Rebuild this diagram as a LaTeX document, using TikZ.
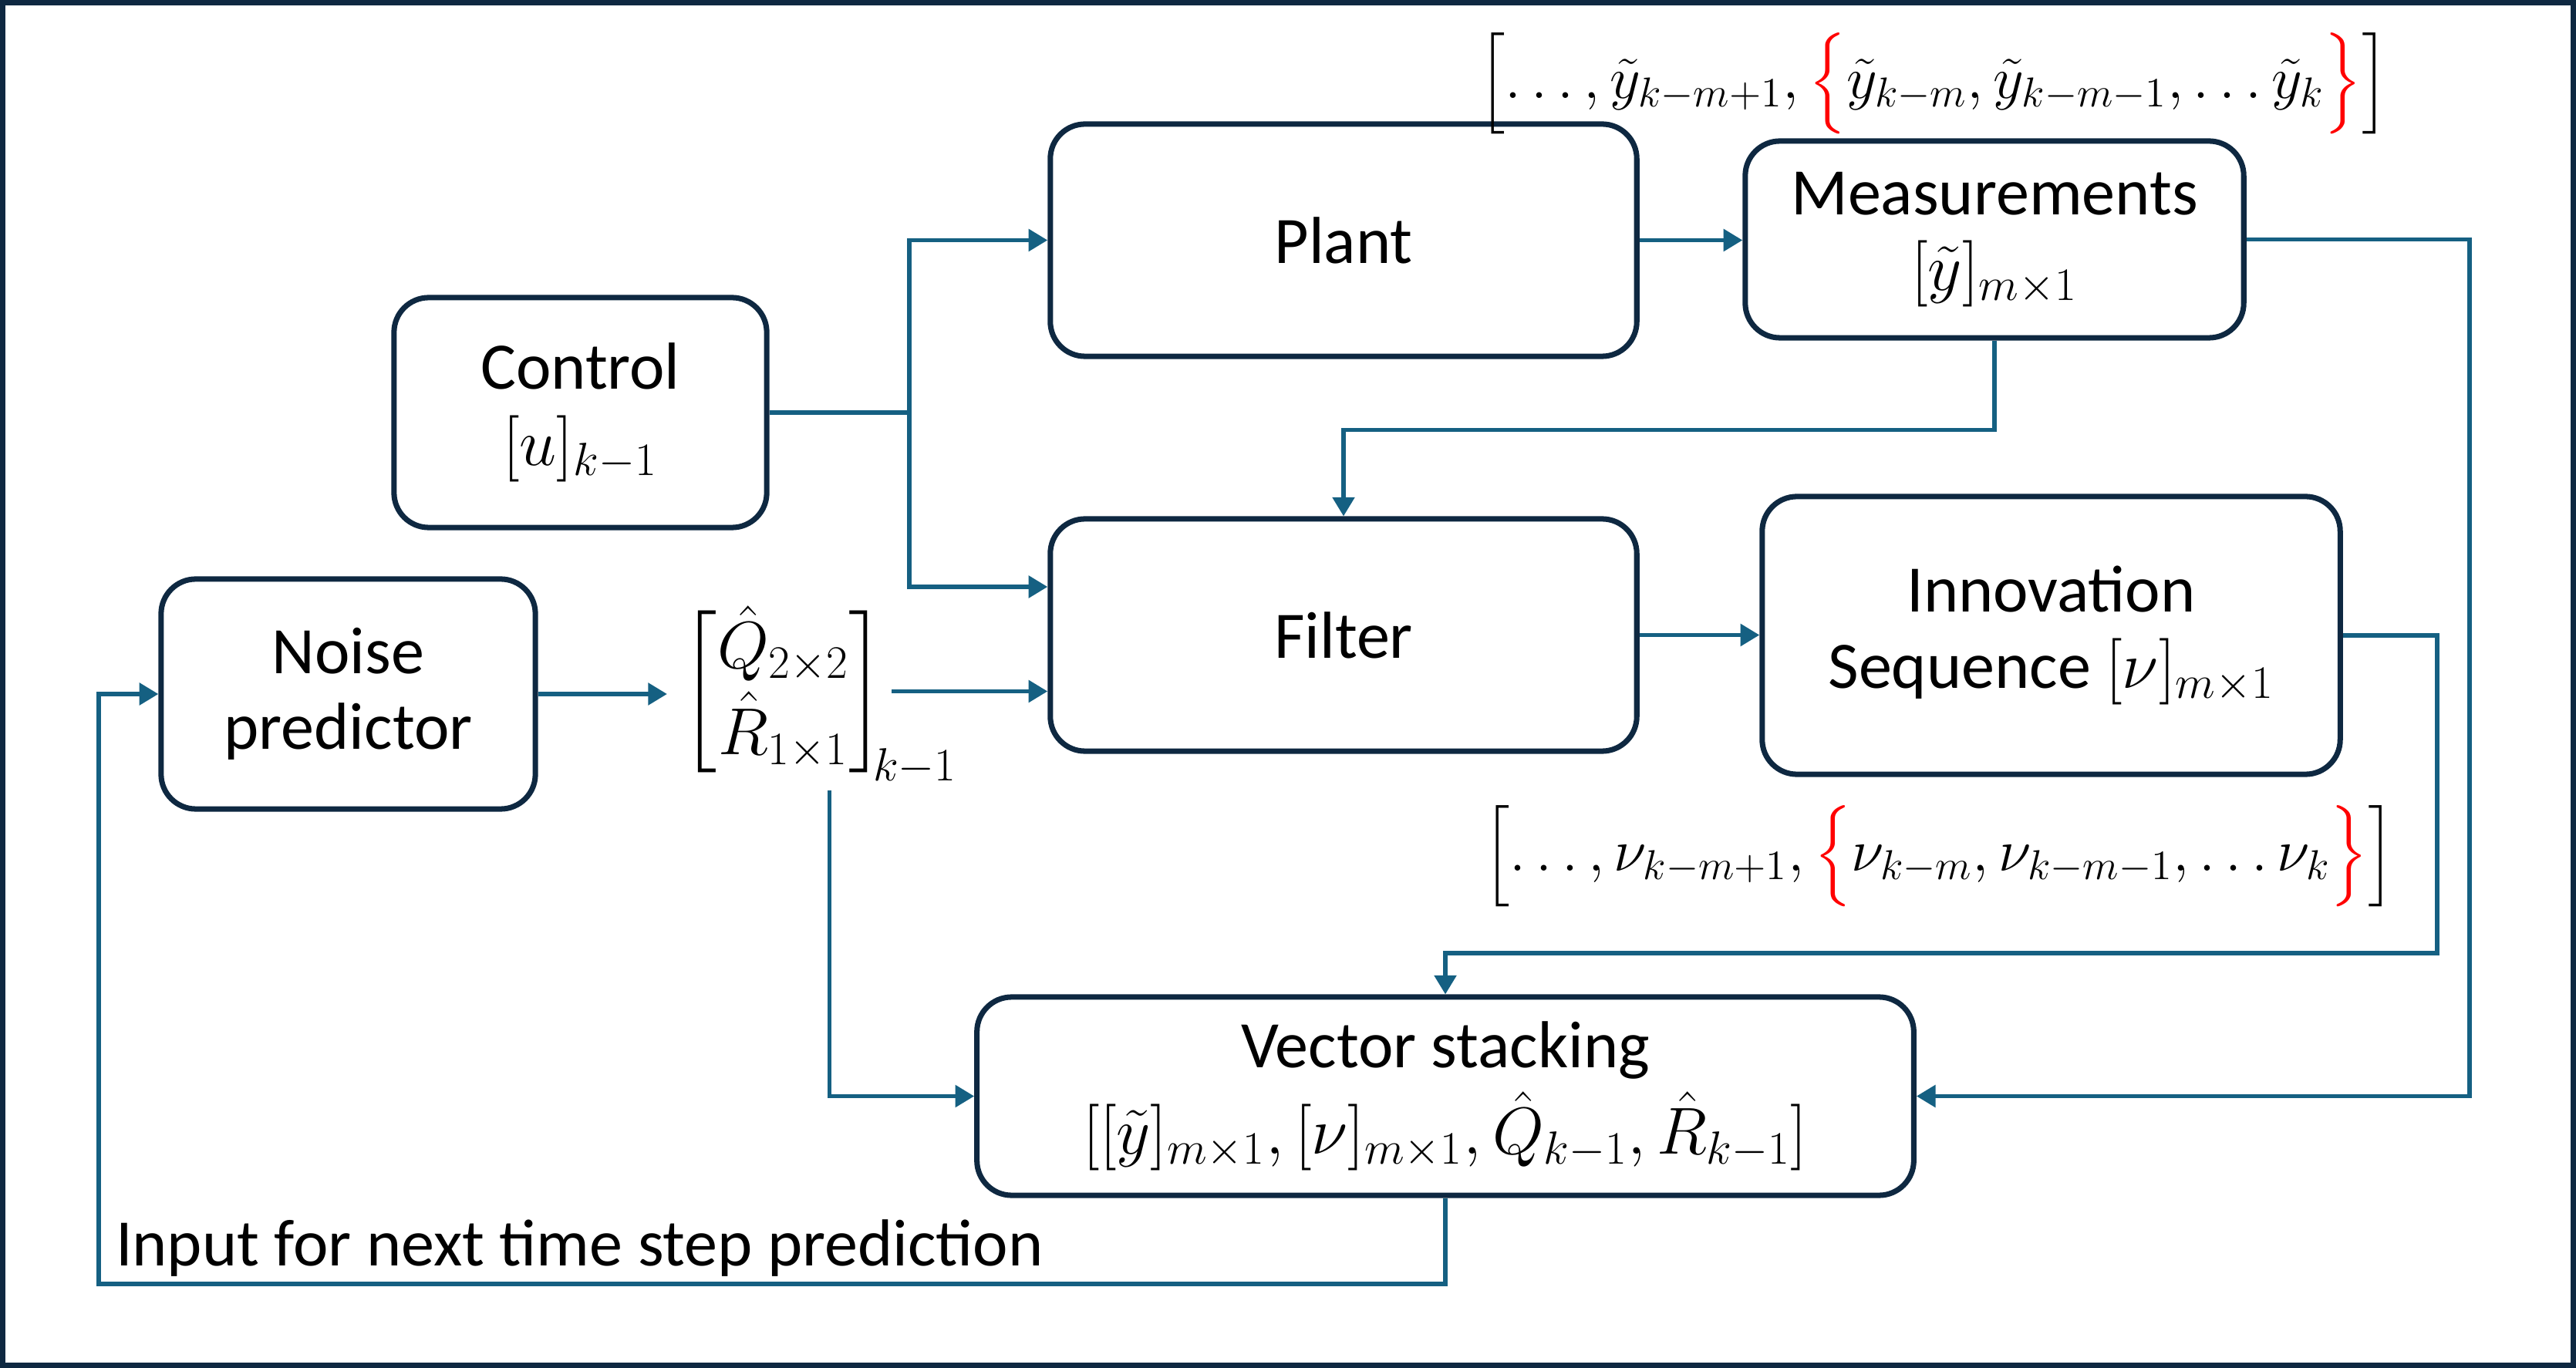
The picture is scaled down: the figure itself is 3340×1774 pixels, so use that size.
\RequirePackage{fix-cm}
\documentclass[tikz,border=0pt]{standalone}
\usepackage{amsmath}
\usepackage{fontspec}
\setmainfont{Carlito}
\usetikzlibrary{arrows.meta,calc}
\definecolor{boxc}{HTML}{0E2841}
\definecolor{linec}{HTML}{156082}
\newcommand\mainsz{\fontsize{24.5}{28}\selectfont}
\newcommand\listsz{\fontsize{22}{26}\selectfont}
\begin{document}
\begin{tikzpicture}[x=0.01cm,y=-0.01cm,
  box/.style={draw=boxc, line width=2pt, rounded corners=0.45cm, fill=white, align=center, font=\mainsz, inner sep=0pt},
  conn/.style={draw=linec, line width=1.5pt},
  arr/.style={conn, -{Triangle[length=7pt,width=8pt]}},
  frame/.style={draw=boxc, line width=0.07cm},
  plain/.style={inner sep=0pt, outer sep=0pt}]
\useasboundingbox (0,0) rectangle (3340,1774);
\draw[frame] (3.5,3.5) rectangle (3336.5,1770.5);

% boxes
\node[box, minimum width=7.60cm, minimum height=3.01cm] (plant) at (1742,311.5) {Plant};
\node[box, minimum width=6.46cm, minimum height=2.55cm] (meas) at (2586,310.5) {Measurements\\$[\tilde{y}]_{m\times 1}$};
\node[box, minimum width=4.83cm, minimum height=2.98cm] (ctrl) at (752.5,535) {Control\\$[u]_{k-1}$};
\node[box, minimum width=7.60cm, minimum height=3.01cm] (filter) at (1742,823.5) {Filter};
\node[box, minimum width=7.49cm, minimum height=3.60cm] (innov) at (2659.5,824) {Innovation\\Sequence $[\nu]_{m\times 1}$};
\node[box, minimum width=4.85cm, minimum height=2.98cm] (noise) at (451.5,900) {Noise\\predictor};
\node[box, minimum width=12.14cm, minimum height=2.57cm] (vec) at (1874,1421.5) {Vector stacking\\[4pt]$[[\tilde{y}]_{m\times1},[\nu]_{m\times1},\hat{Q}_{k-1},\hat{R}_{k-1}]$};

% matrix
\node[plain, font=\mainsz] (mat) at (1015.5,896.5) {$\begin{bmatrix}\hat{Q}_{2\times2}\\ \hat{R}_{1\times1}\end{bmatrix}$};
\node[plain, font=\mainsz, anchor=base west] (matk) at (1132,1013) {$\scriptstyle k-1$};

% lists
\node[plain, font=\listsz] (ylist) at (2507,108) {$\Bigl[\dots,\tilde{y}_{k-m+1},{\color{red}\Bigl\{}\tilde{y}_{k-m},\tilde{y}_{k-m-1},\dots\tilde{y}_{k}{\color{red}\Bigr\}}\Bigr]$};
\node[plain, font=\listsz] (nulist) at (2514,1110) {$\Bigl[\dots,\nu_{k-m+1},{\color{red}\Bigl\{}\nu_{k-m},\nu_{k-m-1},\dots\nu_{k}{\color{red}\Bigr\}}\Bigr]$};

\node[plain, font=\mainsz, anchor=base west] (nextlbl) at (150,1641) {Input for next time step prediction};

% connectors
\coordinate (cj) at (1179,535);
\draw[conn] (ctrl.east) -- (cj);
\draw[arr] (cj) |- (plant.west);
\draw[arr] (cj) |- ($(filter.west)+(0,-62.5)$);
\draw[arr] (plant.east) -- (plant.east -| meas.west);
\coordinate (mr) at (3202,310.5);
\draw[arr] (meas.east) -- (mr) |- (vec.east);
\draw[arr] (meas.south) -- ++(0,116) -| (filter.north);
\draw[arr] (filter.east) -- (filter.east -| innov.west);
\coordinate (iturn) at (3160,1236);
\draw[arr] (innov.east) -| (iturn) -| (vec.north);
\draw[arr, shorten >=0.19cm] (noise.east) -- (noise.east -| mat.west);
\draw[arr] ([xshift=0.09cm]mat.east) -- (mat.east -| filter.west);
\coordinate (mbot) at ($(mat.south)+(60,17)$);
\draw[arr] (mbot) |- (vec.west);
\coordinate (vb) at (128,1665);
\draw[arr] (vec.south) |- (vb) |- (noise.west);
\end{tikzpicture}
\end{document}
